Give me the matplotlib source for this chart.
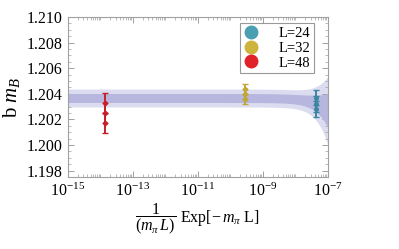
import numpy as np
import matplotlib
matplotlib.use("Agg")
import matplotlib.pyplot as plt
from matplotlib.lines import Line2D
from matplotlib.ticker import LogLocator, NullFormatter, FixedLocator

plt.rcParams['font.family'] = ['Liberation Serif', 'DejaVu Serif']
plt.rcParams['mathtext.fontset'] = 'custom'
plt.rcParams['mathtext.rm'] = 'Liberation Serif'
plt.rcParams['mathtext.it'] = 'Liberation Serif:italic'

# data
labels = ['L=24', 'L=32', 'L=48']
colors = ['#4a9fb2', '#cdb43c', '#e0232a']
ecolors = ['#3a86a0', '#c2a636', '#c8202a']
x_vals = [4.2e-8, 2.8e-10, 1.4e-14]
y_vals = [[1.2037, 1.2032, 1.2028], [1.2044, 1.2040, 1.2036], [1.2033, 1.2025, 1.2017]]
y_errs = [[0.0006, 0.0006, 0.0006], [0.0004, 0.0004, 0.0004], [0.0008, 0.0008, 0.0008]]

# fit band parameters: b*m_B = c + a*x
fit_c = 1.20367
fit_c_err = 0.00035
fit_a = -10000.0
fit_a_err = 13000.0

fig = plt.figure(figsize=(3.99, 2.49), dpi=100)
ax = fig.add_axes([0.170, 0.289, 0.652, 0.643])

xs = np.logspace(-15, -7, 600)
cen = fit_c + fit_a * xs
sig = np.sqrt(fit_c_err**2 + (fit_a_err * xs)**2)
ax.fill_between(xs, cen - 2 * sig, cen + 2 * sig, color='#dcdcf0', lw=0, zorder=1)
ax.fill_between(xs, cen - sig, cen + sig, color='#b6b6de', lw=0, zorder=2)

for xv, yv, ye, ec in zip(x_vals, y_vals, y_errs, ecolors):
    ax.errorbar([xv] * len(yv), yv, yerr=ye, fmt='o', ms=2.5, color=ec,
                ecolor=ec, elinewidth=1.4, capsize=2.5, capthick=1.0, zorder=3)

ax.set_xscale('log')
ax.set_xlim(1e-15, 1e-7)
ax.set_ylim(1.1975, 1.2100)
ax.xaxis.set_major_locator(FixedLocator([1e-15, 1e-13, 1e-11, 1e-9, 1e-7]))
ax.xaxis.set_minor_locator(LogLocator(base=10, subs=np.arange(1, 10), numticks=100))
ax.xaxis.set_minor_formatter(NullFormatter())
ax.set_yticks([1.198, 1.200, 1.202, 1.204, 1.206, 1.208, 1.210])
ax.set_yticklabels(['1.198', '1.200', '1.202', '1.204', '1.206', '1.208', '1.210'])
ax.yaxis.set_minor_locator(FixedLocator(np.arange(1.1975, 1.2101, 0.0005)))

for s in ax.spines.values():
    s.set_color('#a0a0a0')
    s.set_linewidth(0.8)
ax.tick_params(which='both', direction='in', top=True, right=True, color='#a0a0a0',
               labelsize=11.5, pad=4)
ax.tick_params(which='major', length=4, width=0.7)
ax.tick_params(which='minor', length=2, width=0.5)

ax.set_ylabel(r'b $m_B$', fontsize=15, labelpad=3)
fig.text(0.495, 0.12, r'$\dfrac{1}{(m_\pi\,L)}$ Exp[$-\,m_\pi$ L]', fontsize=11.5,
         ha='center', va='center')

handles = [Line2D([], [], marker='o', ls='', ms=9, color=c) for c in colors]
leg = ax.legend(handles, labels, loc='upper right', bbox_to_anchor=(0.945, 0.96),
                fontsize=10.5, frameon=True, fancybox=False, handletextpad=1.4,
                borderpad=0.25, labelspacing=0.1, borderaxespad=0, handlelength=1.0)
leg.get_frame().set_edgecolor('#808080')
leg.get_frame().set_linewidth(0.8)

fig.savefig('out.png', dpi=100)
